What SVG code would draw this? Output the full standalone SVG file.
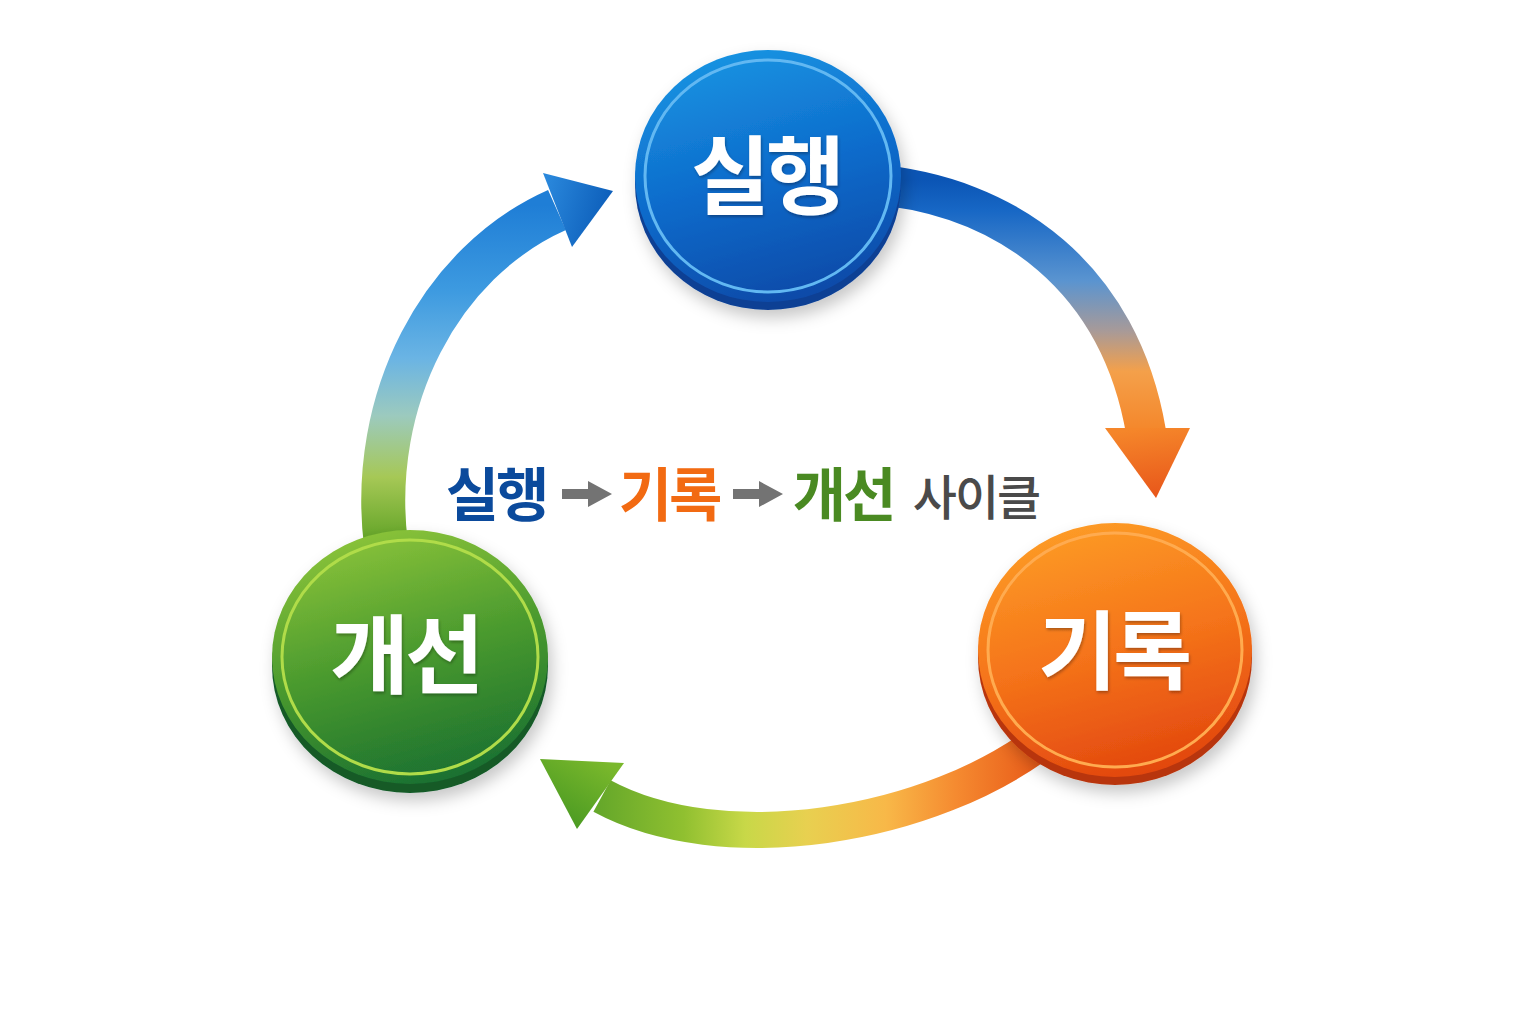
<svg xmlns="http://www.w3.org/2000/svg" width="1536" height="1024" viewBox="0 0 1536 1024">
  <defs>
    <style>
      .lbl { font-family: "Noto Sans CJK KR", "Noto Sans", sans-serif; font-weight: 700; fill: #ffffff; text-anchor: middle; }
      .cap { font-family: "Noto Sans CJK KR", "Noto Sans", sans-serif; font-weight: 700; text-anchor: middle; }
      .shaft { fill: none; stroke-linecap: butt; }
      .ring { fill: none; stroke-width: 3; }
    </style>
    <filter id="shadow" x="-20%" y="-20%" width="140%" height="150%">
      <feDropShadow dx="4" dy="8" stdDeviation="8" flood-color="#000" flood-opacity="0.22"/>
    </filter>
    <filter id="tshadow" x="-10%" y="-10%" width="120%" height="130%">
      <feDropShadow dx="1" dy="2" stdDeviation="1.5" flood-color="#000" flood-opacity="0.3"/>
    </filter>
    <!-- connector gradients -->
    <linearGradient id="gRight" gradientUnits="userSpaceOnUse" x1="0" y1="180" x2="0" y2="432">
      <stop offset="0" stop-color="#0b55b5"/>
      <stop offset="0.12" stop-color="#1767c5"/>
      <stop offset="0.4" stop-color="#5a94d0"/>
      <stop offset="0.6" stop-color="#a89a98"/>
      <stop offset="0.76" stop-color="#f4a04a"/>
      <stop offset="1" stop-color="#f4862a"/>
    </linearGradient>
    <linearGradient id="gRightHead" gradientUnits="userSpaceOnUse" x1="1147" y1="428" x2="1156" y2="498">
      <stop offset="0" stop-color="#f5862a"/>
      <stop offset="1" stop-color="#e8561a"/>
    </linearGradient>
    <linearGradient id="gLeft" gradientUnits="userSpaceOnUse" x1="0" y1="545" x2="0" y2="205">
      <stop offset="0" stop-color="#5ea224"/>
      <stop offset="0.2" stop-color="#a6c856"/>
      <stop offset="0.38" stop-color="#9ccabe"/>
      <stop offset="0.55" stop-color="#6ab4e4"/>
      <stop offset="0.75" stop-color="#3d9ae0"/>
      <stop offset="1" stop-color="#1f7ed6"/>
    </linearGradient>
    <linearGradient id="gLeftHead" gradientUnits="userSpaceOnUse" x1="543" y1="190" x2="613" y2="210">
      <stop offset="0" stop-color="#2a88dc"/>
      <stop offset="1" stop-color="#0b5cb8"/>
    </linearGradient>
    <linearGradient id="gBottom" gradientUnits="userSpaceOnUse" x1="1040" y1="0" x2="600" y2="0">
      <stop offset="0" stop-color="#e85a18"/>
      <stop offset="0.19" stop-color="#f58a30"/>
      <stop offset="0.35" stop-color="#f8b848"/>
      <stop offset="0.53" stop-color="#e8d050"/>
      <stop offset="0.67" stop-color="#c8d848"/>
      <stop offset="0.81" stop-color="#90c030"/>
      <stop offset="1" stop-color="#66a82a"/>
    </linearGradient>
    <linearGradient id="gBottomHead" gradientUnits="userSpaceOnUse" x1="610" y1="765" x2="570" y2="828">
      <stop offset="0" stop-color="#7ab82c"/>
      <stop offset="1" stop-color="#4a9a22"/>
    </linearGradient>
    <!-- node gradients -->
    <linearGradient id="fBlue" x1="0.3" y1="0" x2="0.6" y2="1">
      <stop offset="0" stop-color="#1894e2"/>
      <stop offset="0.5" stop-color="#0e6ccc"/>
      <stop offset="1" stop-color="#0a4aa8"/>
    </linearGradient>
    <linearGradient id="fOrange" x1="0.3" y1="0" x2="0.6" y2="1">
      <stop offset="0" stop-color="#fd9c26"/>
      <stop offset="0.5" stop-color="#f5741a"/>
      <stop offset="1" stop-color="#e2460e"/>
    </linearGradient>
    <linearGradient id="fGreen" x1="0.3" y1="0" x2="0.6" y2="1">
      <stop offset="0" stop-color="#8cc43a"/>
      <stop offset="0.5" stop-color="#4a9a2e"/>
      <stop offset="1" stop-color="#1a7030"/>
    </linearGradient>
  </defs>

  <rect width="1536" height="1024" fill="#ffffff"/>

  <g id="connectors">
    <g id="edge-exec-record">
      <path class="shaft" d="M 870 184 C 1010 195, 1120 280, 1146 432" stroke="url(#gRight)" stroke-width="40"/>
      <polygon points="1105,428 1190,428 1156,498" fill="url(#gRightHead)"/>
    </g>
    <g id="edge-record-improve">
      <path class="shaft" d="M 1050 735 C 930 830, 720 860, 602 796" stroke="url(#gBottom)" stroke-width="36"/>
      <polygon points="624,763 540,759 577,829" fill="url(#gBottomHead)"/>
    </g>
    <g id="edge-improve-exec">
      <path class="shaft" d="M 386 545 C 368 400, 440 262, 557 210" stroke="url(#gLeft)" stroke-width="44"/>
      <polygon points="543,173 613,191 572,247" fill="url(#gLeftHead)"/>
    </g>
  </g>

  <g id="node-exec" filter="url(#shadow)">
    <ellipse cx="768" cy="184" rx="133" ry="126" fill="#0a3f94"/>
    <ellipse cx="768" cy="176" rx="133" ry="126" fill="url(#fBlue)"/>
    <ellipse class="ring" cx="768" cy="176" rx="123" ry="116" stroke="#62b8f2"/>
    <text class="lbl" x="766" y="208" font-size="86" letter-spacing="-4" filter="url(#tshadow)">실행</text>
  </g>

  <g id="node-record" filter="url(#shadow)">
    <ellipse cx="1115" cy="658" rx="137" ry="127" fill="#b8350c"/>
    <ellipse cx="1115" cy="650" rx="137" ry="127" fill="url(#fOrange)"/>
    <ellipse class="ring" cx="1115" cy="650" rx="127" ry="117" stroke="#ffab50"/>
    <text class="lbl" x="1113" y="683" font-size="86" letter-spacing="-4" filter="url(#tshadow)">기록</text>
  </g>

  <g id="node-improve" filter="url(#shadow)">
    <ellipse cx="410" cy="666" rx="138" ry="127" fill="#125a28"/>
    <ellipse cx="410" cy="657" rx="138" ry="127" fill="url(#fGreen)"/>
    <ellipse class="ring" cx="410" cy="657" rx="128" ry="117" stroke="#b0dc48"/>
    <text class="lbl" x="405" y="687" font-size="86" letter-spacing="-4" filter="url(#tshadow)">개선</text>
  </g>

  <g id="caption">
    <text class="cap" x="496" y="516" font-size="58" letter-spacing="-3" fill="#0b4a9c">실행</text>
    <polygon points="562,489 588,489 588,481 612,494 588,507 588,499 562,499" fill="#737373"/>
    <text class="cap" x="669" y="516" font-size="58" letter-spacing="-3" fill="#f26a12">기록</text>
    <polygon points="733,489 759,489 759,481 783,494 759,507 759,499 733,499" fill="#737373"/>
    <text class="cap" x="843" y="516" font-size="58" letter-spacing="-3" fill="#4a8a22">개선</text>
    <text class="cap" x="976" y="515" font-size="48" font-weight="500" letter-spacing="-2" fill="#4a4a4a" style="font-weight:500">사이클</text>
  </g>
</svg>
